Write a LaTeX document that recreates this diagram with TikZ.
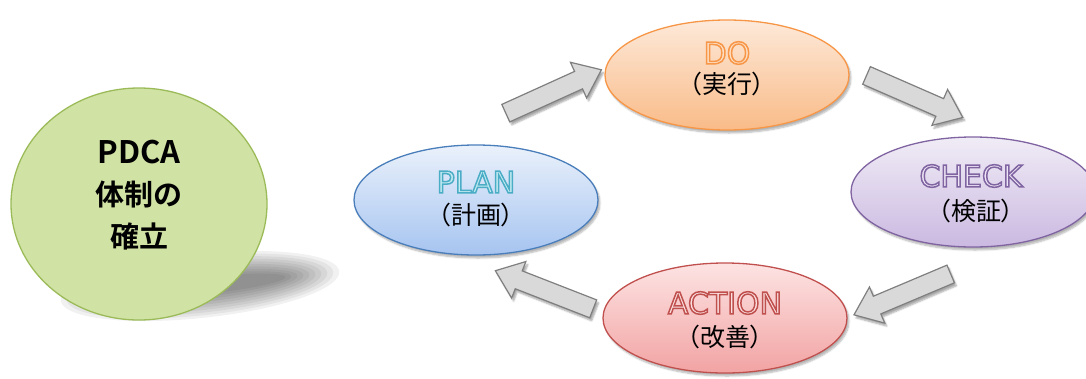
\documentclass[tikz,border=0pt]{standalone}
\usepackage{fontspec}
\usetikzlibrary{shapes.geometric,shapes.arrows,shadows.blur}
\newfontfamily\jp[RawFeature=+palt]{Noto Sans CJK JP}
\newfontfamily\jpb{Noto Sans CJK JP Bold}
\newfontfamily\ttl{DejaVu Sans}
% outlined text: fill in current colour, stroke in #1 (rgb triple)
\newcommand\outlinedtext[2]{\special{pdf:literal direct 2 Tr 1.5 w #1 RG}#2\special{pdf:literal direct 0 Tr}}
\definecolor{planB}{HTML}{4A7EBB}\definecolor{planT}{HTML}{EAF1FB}\definecolor{planM}{HTML}{A6C4F0}
\definecolor{doB}{HTML}{F79646}\definecolor{doT}{HTML}{FDE9D9}\definecolor{doM}{HTML}{F9BB88}
\definecolor{chB}{HTML}{8064A2}\definecolor{chT}{HTML}{F0ECF6}\definecolor{chM}{HTML}{CBB9E1}
\definecolor{acB}{HTML}{C0504D}\definecolor{acT}{HTML}{FDE3E3}\definecolor{acM}{HTML}{F2A3A3}
\definecolor{grF}{HTML}{D1E2A5}\definecolor{grB}{HTML}{9BBB59}
\definecolor{arF}{HTML}{D9D9D9}\definecolor{arB}{HTML}{7F7F7F}
\definecolor{planTx}{HTML}{C4ECF2}
\definecolor{doTx}{HTML}{FDE0C6}
\definecolor{chTx}{HTML}{EEE6F6}
\definecolor{acTx}{HTML}{FBE2E2}
\tikzset{
  stage/.style={ellipse, line width=1.3pt, minimum width=244pt, minimum height=110pt, inner sep=0pt,
    blur shadow={shadow xshift=2pt, shadow yshift=-3pt, shadow opacity=30, shadow blur steps=6}},
  ttlnode/.style={inner sep=0pt, font=\ttl\fontsize{30}{30}\selectfont},
  subnode/.style={inner sep=0pt, font=\jp\fontsize{25}{25}\selectfont},
  blockarrow/.style={single arrow, draw=arB, fill=arF, line width=1.2pt,
    single arrow head extend=10pt, single arrow tip angle=76, inner xsep=0pt, inner ysep=9pt, minimum height=105pt,
    blur shadow={shadow xshift=2pt, shadow yshift=-3pt, shadow opacity=35, shadow blur steps=5}},
}
\begin{document}
\begin{tikzpicture}[x=1pt,y=-1pt]
\useasboundingbox (0,0) rectangle (1086,378);
% shadow of the green disc
\foreach \i in {0,...,9}{
  \fill[black, opacity=0.055, rotate around={6:(200,286)}] (200,286) ellipse [x radius={140-\i*6}, y radius={32-\i*2.6}];
}
\node[ellipse, draw=grB, fill=grF, line width=1.3pt, minimum width=256pt, minimum height=232pt, inner sep=0pt] (pdca) at (139,204) {};
\node[inner sep=0pt, font=\jpb\fontsize{31}{31}\selectfont] (t1) at (139,152) {PDCA};
\node[inner sep=0pt, font=\jpb\fontsize{29}{29}\selectfont] (t2) at (139,195) {体制の};
\node[inner sep=0pt, font=\jpb\fontsize{29}{29}\selectfont] (t3) at (139,236) {確立};

% arrows
\node[blockarrow, rotate=24.4] (a1) at (548,94) {};
\node[blockarrow, rotate=-23.6] (a2) at (909,94) {};
\node[blockarrow, rotate=-157.1] (a3) at (908,292) {};
\node[blockarrow, rotate=158.7] (a4) at (550,292) {};

% stages
\node[stage, draw=planB, top color=planT, bottom color=planM] (plan) at (476,200) {};
\node[stage, draw=doB, top color=doT, bottom color=doM] (do) at (727,75) {};
\node[stage, draw=chB, top color=chT, bottom color=chM] (check) at (973,192) {};
\node[stage, draw=acB, top color=acT, bottom color=acM] (action) at (725,318) {};

\node[ttlnode, text=planTx] (planT1) at (476,182) {\outlinedtext{0.294 0.675 0.776}{PLAN}};
\node[subnode] (planT2) at (476,215) {（計画）};
\node[ttlnode, text=doTx] (doT1) at (727,53) {\outlinedtext{0.969 0.588 0.275}{DO}};
\node[subnode] (doT2) at (727,84) {（実行）};
\node[ttlnode, text=chTx] (chT1) at (971,176) {\outlinedtext{0.502 0.392 0.635}{CHECK}};
\node[subnode] (chT2) at (976,211) {（検証）};
\node[ttlnode, text=acTx] (acT1) at (725,303) {\outlinedtext{0.753 0.314 0.302}{ACTION}};
\node[subnode] (acT2) at (725,337) {（改善）};
\end{tikzpicture}
\end{document}
